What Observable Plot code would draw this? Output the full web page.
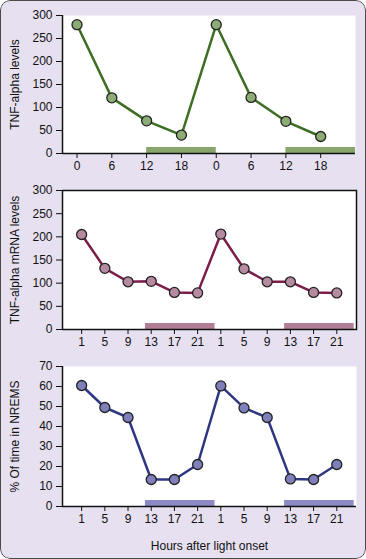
<!DOCTYPE html>
<html><head><meta charset="utf-8">
<script src="https://cdn.jsdelivr.net/npm/d3@7"></script>
<script src="https://cdn.jsdelivr.net/npm/@observablehq/plot@0.6"></script>
<style>
html,body{margin:0;padding:0;background:#fff;}
#wrap{position:relative;width:366px;height:559px;background:#e6e0f0;border-radius:10px;overflow:hidden;font-family:"Liberation Sans",Arial,sans-serif;}
#wrap svg{position:absolute;left:0;}
#edge{position:absolute;left:0;top:0;right:0;bottom:0;box-sizing:border-box;border:1.5px solid #4a4a4a;border-radius:10px;pointer-events:none;}
</style></head><body><div id="wrap"><div id="edge"></div></div>
<script>
// Panel 1: TNF-alpha levels
const hours1 = [0, 6, 12, 18, 24, 30, 36, 42];
const hourLabels1 = ["0", "6", "12", "18", "0", "6", "12", "18"];
const tnfLevels = [280, 121, 71, 40, 280, 122, 70, 37];

// Panels 2 and 3
const hours2 = [1, 5, 9, 13, 17, 21, 25, 29, 33, 37, 41, 45];
const hourLabels2 = ["1", "5", "9", "13", "17", "21", "1", "5", "9", "13", "17", "21"];
const mrnaLevels = [205, 132, 103, 104, 80, 79, 206, 131, 103, 103, 80, 79];
const nremsPct = [60.5, 49.5, 44.5, 13.5, 13.5, 21, 60.3, 49.3, 44.5, 13.8, 13.5, 21];

// Dark periods (hours)
const darkStart = [12, 36];
const darkEnd = [24, 48];

const yTicks300 = [0, 50, 100, 150, 200, 250, 300];
const yTicks70 = [0, 10, 20, 30, 40, 50, 60, 70];

function panel(o) {
  const data = o.xs.map((x, i) => ({x, y: o.ys[i]}));
  const dark = darkStart.map((s, i) => ({x1: s, x2: darkEnd[i]}));
  const labMap = new Map(o.xs.map((x, i) => [x, o.xLabels[i]]));
  const marks = [
    Plot.frame({fill: "white", stroke: "none"}),
    Plot.ruleY(dark, {x1: "x1", x2: "x2", y: d => 0, stroke: o.bar, strokeWidth: 6, dy: -3.5}),
  ];
  if (o.frame) {
    marks.push(Plot.frame({stroke: "#111", strokeWidth: 1.5}));
  } else {
    marks.push(Plot.ruleX([o.xDomain[0]], {stroke: "#111", strokeWidth: 1.5}));
    marks.push(Plot.ruleY([0], {stroke: "#111", strokeWidth: 1.5}));
  }
  marks.push(
    Plot.axisY({ticks: o.yTicks, tickSize: 6, tickPadding: 4, label: o.yLabel, labelAnchor: "center", labelArrow: "none", labelOffset: 52, fontSize: 12}),
    Plot.axisX({ticks: o.xs, tickFormat: d => labMap.get(d), tickSize: 5, tickPadding: 3, label: o.xLabel || null, labelAnchor: "center", labelArrow: "none", labelOffset: 43, fontSize: 12}),
    Plot.line(data, {x: "x", y: "y", stroke: o.color, strokeWidth: 2.5}),
    Plot.dot(data, {x: "x", y: "y", r: 5, fill: o.fill, stroke: "#222", strokeWidth: 1.3})
  );
  const svg = Plot.plot({
    width: 366,
    height: o.height,
    marginTop: 15,
    marginBottom: o.marginBottom,
    marginLeft: 62,
    marginRight: o.marginRight,
    x: {domain: o.xDomain},
    y: {domain: o.yDomain},
    style: {background: "transparent", fontFamily: "'Liberation Sans', Arial, sans-serif", fontSize: "12px", color: "#111", overflow: "visible"},
    marks
  });
  svg.style.top = o.top + "px";
  document.getElementById("wrap").insertBefore(svg, document.getElementById("edge"));
}

panel({top: 0, height: 180, marginBottom: 27, marginRight: 11, xs: hours1, xLabels: hourLabels1, ys: tnfLevels,
  xDomain: [-2.5, 48], yDomain: [0, 300], yTicks: yTicks300, yLabel: "TNF-alpha levels",
  color: "#3e6d24", fill: "#8dab74", bar: "#87a56d", frame: false});
panel({top: 175, height: 181, marginBottom: 27, marginRight: 10, xs: hours2, xLabels: hourLabels2, ys: mrnaLevels,
  xDomain: [-2.3, 48.4], yDomain: [0, 300], yTicks: yTicks300, yLabel: "TNF-alpha mRNA levels",
  color: "#7b1d4b", fill: "#b68aa0", bar: "#b17e96", frame: true});
panel({top: 351, height: 205, marginBottom: 50, marginRight: 10, xs: hours2, xLabels: hourLabels2, ys: nremsPct,
  xDomain: [-2.3, 48.4], yDomain: [0, 70], yTicks: yTicks70, yLabel: "% Of time in NREMS", xLabel: "Hours after light onset",
  color: "#2f3783", fill: "#7f80bb", bar: "#8b8ac6", frame: false});
</script></body></html>
